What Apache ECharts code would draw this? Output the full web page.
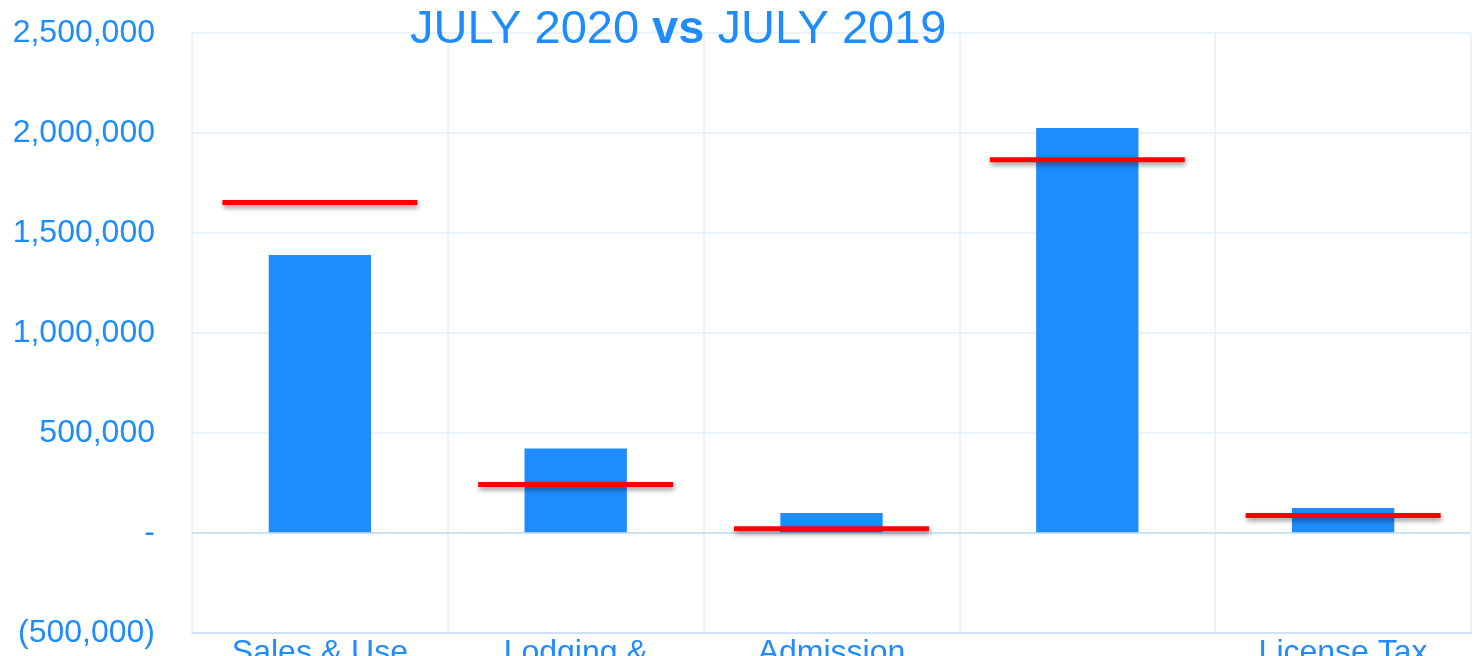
<!DOCTYPE html>
<html>
<head>
<meta charset="utf-8">
<script src="https://cdn.jsdelivr.net/npm/echarts@6/dist/echarts.min.js"></script>
<style>
  html, body { margin: 0; padding: 0; background: #fff; }
  #chart { width: 1476px; height: 656px; }
</style>
</head>
<body>
<div id="chart"></div>
<script>
// data
const categories = ['Sales & Use', 'Lodging &', 'Admission', '', 'License Tax'];
const july2020 = [1390000, 423000, 100000, 2025000, 125000];
const july2019 = [1653000, 243000, 21500, 1866000, 88000];
const yTicks = { min: -500000, max: 2500000, interval: 500000 };

const blue = '#1e8cff';
const font = '"Liberation Sans", Arial, sans-serif';

const fmt = (v) => {
  if (v === 0) return '-';
  const s = Math.abs(v).toLocaleString('en-US');
  return v < 0 ? '(' + s + ')' : s;
};

const chart = echarts.init(document.getElementById('chart'), null, { renderer: 'canvas' });

const option = {
  backgroundColor: '#fff',
  animation: false,
  title: {
    left: 405,
    top: 2,
    text: '{a|JULY 2020 }{b|vs}{a| JULY 2019}',
    textStyle: {
      fontWeight: 'normal',
      rich: {
        a: { fontSize: 47, color: blue, fontFamily: font, fontWeight: 'normal' },
        b: { fontSize: 47, color: blue, fontFamily: font, fontWeight: 'bold' }
      }
    }
  },
  grid: {
    left: 192,
    right: 5,
    top: 33,
    bottom: 23,
    containLabel: false,
    outerBoundsMode: 'none'
  },
  xAxis: {
    type: 'category',
    data: categories,
    axisLine: { onZero: false, lineStyle: { color: '#c5dcf5', width: 1.5 } },
    axisTick: { show: false },
    splitLine: { show: true, lineStyle: { color: '#e3effb', width: 1.5 } },
    axisLabel: {
      color: blue,
      fontSize: 32,
      fontFamily: font,
      margin: 4,
      interval: 0
    }
  },
  yAxis: {
    type: 'value',
    min: yTicks.min,
    max: yTicks.max,
    interval: yTicks.interval,
    axisLine: { show: false },
    axisTick: { show: false },
    splitLine: { lineStyle: { color: '#e3effb', width: 1.5 } },
    axisLabel: {
      color: blue,
      fontSize: 32,
      fontFamily: font,
      margin: 37,
      formatter: fmt
    }
  },
  series: [
    {
      name: 'July 2020',
      type: 'bar',
      data: july2020,
      barWidth: '40%',
      itemStyle: { color: blue },
      markLine: {
        silent: true,
        symbol: 'none',
        label: { show: false },
        lineStyle: { color: '#c5dcf5', width: 1.5, type: 'solid' },
        data: [{ yAxis: 0 }]
      }
    },
    {
      name: 'July 2019',
      type: 'scatter',
      data: july2019,
      symbol: 'rect',
      symbolSize: [195, 5],
      z: 5,
      itemStyle: {
        color: '#ff0000',
        opacity: 1,
        shadowColor: 'rgba(0,0,0,0.4)',
        shadowBlur: 5,
        shadowOffsetY: 3,
        shadowOffsetX: 1
      }
    }
  ]
};

chart.setOption(option);
</script>
</body>
</html>
